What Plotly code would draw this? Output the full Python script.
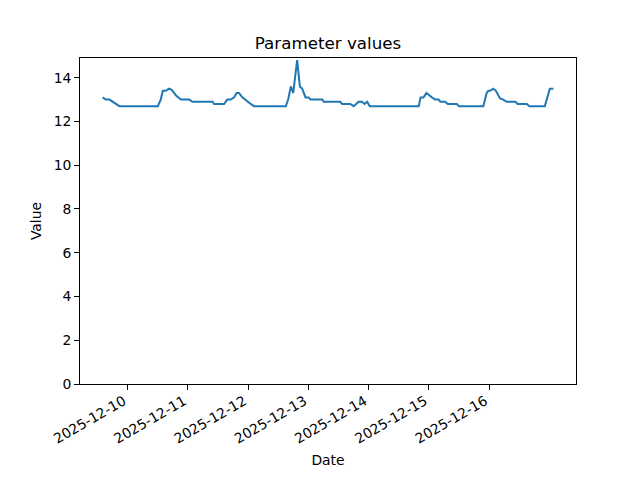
import plotly.graph_objects as go

timestamps = [
    "2025-12-09 14:00", "2025-12-09 15:15", "2025-12-09 16:45", "2025-12-09 18:00",
    "2025-12-09 19:25", "2025-12-09 20:40",
    "2025-12-10 12:00", "2025-12-10 13:10", "2025-12-10 14:00", "2025-12-10 15:10",
    "2025-12-10 16:30", "2025-12-10 17:30", "2025-12-10 19:10", "2025-12-10 21:10",
    "2025-12-11 00:30", "2025-12-11 01:50", "2025-12-11 09:50", "2025-12-11 10:25",
    "2025-12-11 14:25", "2025-12-11 15:40", "2025-12-11 17:00", "2025-12-11 18:25",
    "2025-12-11 19:20", "2025-12-11 20:20", "2025-12-11 21:40", "2025-12-11 23:40",
    "2025-12-12 01:00", "2025-12-12 02:20", "2025-12-12 15:00", "2025-12-12 15:55",
    "2025-12-12 17:00", "2025-12-12 17:55", "2025-12-12 19:30", "2025-12-12 20:35",
    "2025-12-12 21:30", "2025-12-12 22:50", "2025-12-13 00:05", "2025-12-13 00:50",
    "2025-12-13 05:30", "2025-12-13 06:05", "2025-12-13 12:40", "2025-12-13 13:25",
    "2025-12-13 16:40", "2025-12-13 18:00", "2025-12-13 20:00", "2025-12-13 21:20",
    "2025-12-13 22:20", "2025-12-13 23:25", "2025-12-14 00:25", "2025-12-14 19:55",
    "2025-12-14 20:40", "2025-12-14 21:50", "2025-12-14 23:00", "2025-12-15 01:10",
    "2025-12-15 02:30", "2025-12-15 03:50", "2025-12-15 04:35", "2025-12-15 06:30",
    "2025-12-15 07:30", "2025-12-15 11:05", "2025-12-15 12:00", "2025-12-15 21:40",
    "2025-12-15 23:00", "2025-12-15 23:40", "2025-12-16 00:20", "2025-12-16 01:35",
    "2025-12-16 02:40", "2025-12-16 04:20", "2025-12-16 05:35", "2025-12-16 07:00",
    "2025-12-16 10:30", "2025-12-16 11:20", "2025-12-16 15:00", "2025-12-16 16:00",
    "2025-12-16 22:10", "2025-12-17 00:10", "2025-12-17 01:35",
]
values = [
    13.1, 13.0, 13.0, 12.9,
    12.8, 12.7,
    12.7, 13.0, 13.4, 13.4,
    13.5, 13.45, 13.2, 13.0,
    13.0, 12.9, 12.9, 12.8,
    12.8, 13.0, 13.0, 13.1,
    13.3, 13.3, 13.1, 12.9,
    12.8, 12.7, 12.7, 13.0,
    13.6, 13.3, 14.8, 13.6,
    13.5, 13.1, 13.1, 13.0,
    13.0, 12.9, 12.9, 12.8,
    12.8, 12.7, 12.9, 12.9,
    12.8, 12.9, 12.7, 12.7,
    13.1, 13.1, 13.3, 13.1,
    13.0, 13.0, 12.9, 12.9,
    12.8, 12.8, 12.7, 12.7,
    13.3, 13.4, 13.4, 13.5,
    13.4, 13.05, 13.0, 12.9,
    12.9, 12.8, 12.8, 12.7,
    12.7, 13.5, 13.5,
]
x_tick_vals = ["2025-12-10", "2025-12-11", "2025-12-12", "2025-12-13",
               "2025-12-14", "2025-12-15", "2025-12-16"]
x_tick_labels = ["2025-12-10", "2025-12-11", "2025-12-12", "2025-12-13",
                 "2025-12-14", "2025-12-15", "2025-12-16"]
y_ticks = [0, 2, 4, 6, 8, 10, 12, 14]
x_range = ["2025-12-09 05:00", "2025-12-17 10:35"]
y_range = [0, 14.9]

font = "DejaVu Sans"
fig = go.Figure()
fig.add_trace(go.Scatter(x=timestamps, y=values, mode="lines",
                         line=dict(color="#1f77b4", width=2)))
axis_common = dict(showline=True, mirror=True, linecolor="black", linewidth=1,
                   ticks="outside", ticklen=4.9, tickwidth=1, tickcolor="black", showgrid=False,
                   zeroline=False, automargin=False,
                   tickfont=dict(family=font, size=13.9, color="black"))
# page body has an 8px default margin; offsets compensate for it
fig.update_layout(
    width=640, height=480,
    margin=dict(l=72, r=72, t=50, b=104),
    paper_bgcolor="white", plot_bgcolor="white",
    showlegend=False,
    title=dict(text="Parameter values", x=0.5, xref="paper", y=1 - 35/480, yanchor="middle",
               font=dict(family=font, size=16.7, color="black")),
    xaxis=dict(range=x_range, tickvals=x_tick_vals, ticktext=x_tick_labels, tickangle=-30,
               ticklabelshift=-4, ticklabelstandoff=-2,
               title=dict(text="Date", font=dict(family=font, size=13.9, color="black"), standoff=9),
               **axis_common),
    yaxis=dict(range=y_range, tickvals=y_ticks,
               title=dict(text="Value", font=dict(family=font, size=13.9, color="black"), standoff=8),
               **axis_common),
)
fig.write_html("out.html")
